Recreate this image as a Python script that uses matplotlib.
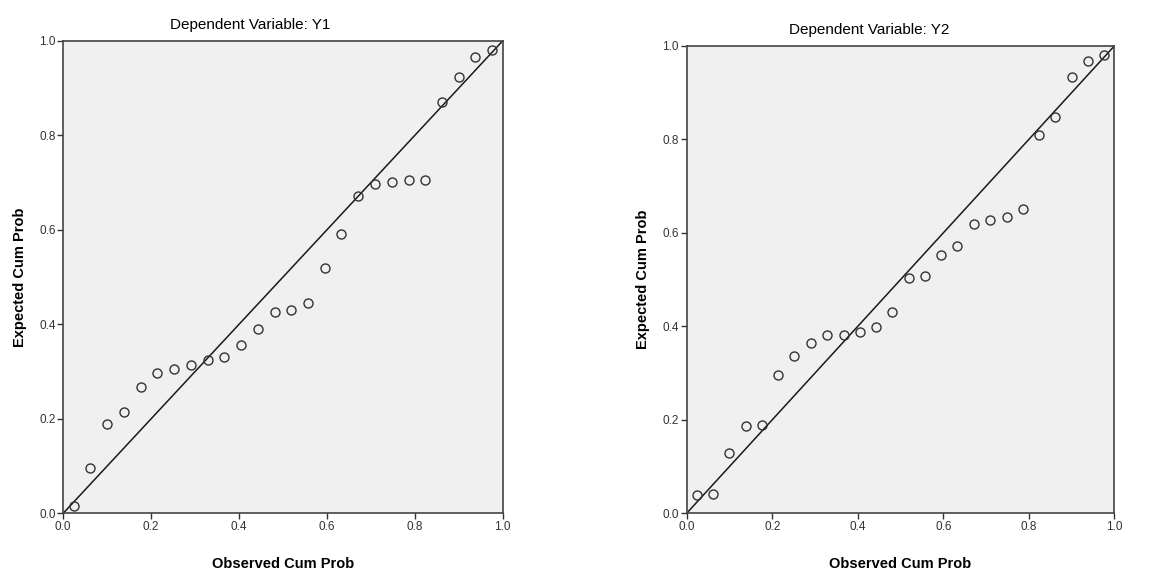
import matplotlib
matplotlib.use("Agg")
import matplotlib.pyplot as plt

plt.rcParams['font.family'] = ['Liberation Sans', 'DejaVu Sans']

# observed cumulative probabilities (same for both models)
observed = [0.024, 0.062, 0.100, 0.138, 0.176, 0.214, 0.252, 0.291, 0.329, 0.367,
            0.405, 0.443, 0.481, 0.519, 0.557, 0.595, 0.633, 0.671, 0.709, 0.748,
            0.786, 0.824, 0.862, 0.900, 0.938, 0.976]

# expected cumulative probabilities
expected_y1 = [0.016, 0.095, 0.189, 0.215, 0.267, 0.297, 0.306, 0.315, 0.324, 0.331,
               0.357, 0.390, 0.426, 0.430, 0.446, 0.520, 0.591, 0.672, 0.697, 0.702,
               0.706, 0.706, 0.871, 0.924, 0.967, 0.981]
expected_y2 = [0.040, 0.042, 0.130, 0.186, 0.188, 0.295, 0.337, 0.364, 0.382, 0.382,
               0.387, 0.399, 0.431, 0.504, 0.508, 0.553, 0.573, 0.620, 0.627, 0.633,
               0.651, 0.810, 0.848, 0.933, 0.968, 0.981]

titles = ["Dependent Variable: Y1", "Dependent Variable: Y2"]
ticks = [0.0, 0.2, 0.4, 0.6, 0.8, 1.0]

fig = plt.figure(figsize=(11.71, 5.70), dpi=100)
ax1 = fig.add_axes([0.054, 0.0995, 0.3752, 0.8286])
ax2 = fig.add_axes([0.5864, 0.0995, 0.3652, 0.8198])

for ax, exp, title in [(ax1, expected_y1, titles[0]), (ax2, expected_y2, titles[1])]:
    ax.set_facecolor('#f0f0f0')
    ax.plot([0, 1], [0, 1], color='#1a1a1a', lw=1.1, zorder=2)
    ax.plot(observed, exp, linestyle='none', marker='o', markersize=6.5,
            markerfacecolor='none', markeredgecolor='#333333', markeredgewidth=1.0,
            zorder=3, clip_on=False)
    ax.set_xlim(0, 1)
    ax.set_ylim(0, 1)
    ax.set_xticks(ticks)
    ax.set_yticks(ticks)
    ax.set_xticklabels([f"{t:.1f}" for t in ticks])
    ax.set_yticklabels([f"{t:.1f}" for t in ticks])
    ax.tick_params(direction='out', length=4, width=1, color='#333333',
                   labelsize=8.5, labelcolor='#333333', pad=1.5)
    for s in ax.spines.values():
        s.set_color('#444444')
        s.set_linewidth(1.2)
    ax.set_xlabel("Observed Cum Prob", fontsize=10.5, fontweight='bold', labelpad=17)
    ax.set_ylabel("Expected Cum Prob", fontsize=10.5, fontweight='bold', labelpad=9)

fig.text(0.2135, 0.956, titles[0], ha='center', va='center', fontsize=11, color='#000000')
fig.text(0.742, 0.947, titles[1], ha='center', va='center', fontsize=11, color='#000000')

fig.savefig("out.png", dpi=100)
